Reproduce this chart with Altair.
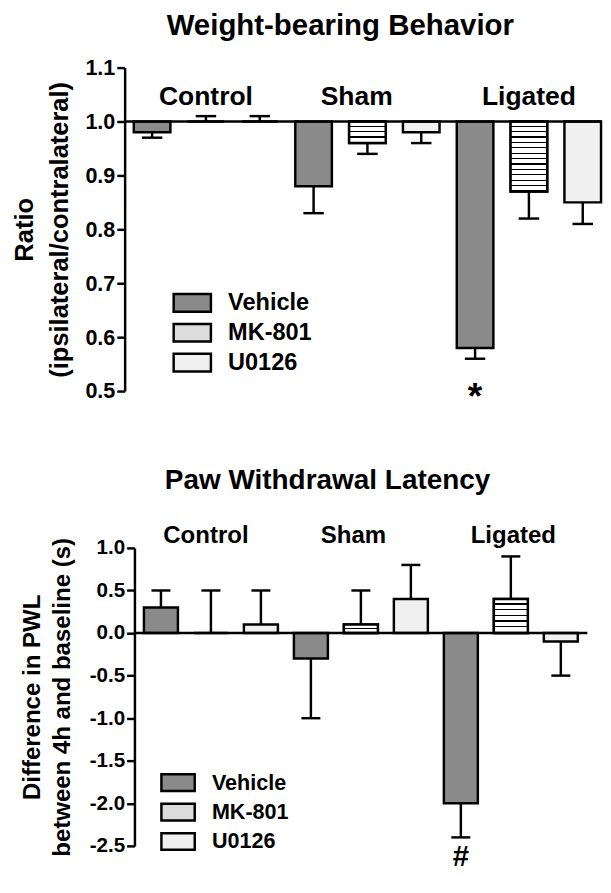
import altair as alt
import pandas as pd

# ---------------- data ----------------
groups = ["Control", "Sham", "Ligated"]
treatments = ["Vehicle", "MK-801", "U0126"]

wb_mean = [0.98, 1.00, 1.00, 0.88, 0.96, 0.98, 0.58, 0.87, 0.85]
wb_err = [0.01, 0.01, 0.01, 0.05, 0.02, 0.02, 0.02, 0.05, 0.04]

pwl_mean = [0.30, 0.00, 0.10, -0.30, 0.10, 0.40, -2.00, 0.40, -0.10]
pwl_err = [0.20, 0.50, 0.40, 0.70, 0.40, 0.40, 0.40, 0.50, 0.40]

wb_ticks = [0.5, 0.6, 0.7, 0.8, 0.9, 1.0, 1.1]
pwl_ticks = [-2.5, -2.0, -1.5, -1.0, -0.5, 0.0, 0.5, 1.0]

wb_label_pos = [1.0, 3.8, 7.0]
pwl_label_pos = [0.9, 3.85, 7.05]

wb_sig = ["*"]
wb_sig_bar = [6]
pwl_sig = ["#"]
pwl_sig_bar = [6]

FONT = "Liberation Sans"
FILLS = ["#8a8a8a", "#dcdcdc", "#f0f0f0"]
LW = 2.5


def stripes(n, line_frac):
    stops = []
    for k in range(n):
        a = k / n
        b = (k + 1) / n
        m = b - line_frac / n
        stops += [
            alt.GradientStop(color="white", offset=a),
            alt.GradientStop(color="white", offset=m),
            alt.GradientStop(color="black", offset=m),
            alt.GradientStop(color="black", offset=b),
        ]
    return alt.LinearGradient(gradient="linear", stops=stops, x1=0, x2=0, y1=0, y2=1)


def panel(cfg):
    base = cfg["base"]
    rows = []
    for k, (m, e) in enumerate(zip(cfg["mean"], cfg["err"])):
        end = m + e if m >= base else m - e
        rows.append(dict(i=k, group=groups[k // 3], treat=treatments[k % 3],
                         mean=m, base=base, end=end,
                         lo=k - 0.34, hi=k + 0.34, clo=k - 0.19, chi=k + 0.19))
    df = pd.DataFrame(rows)

    xs = alt.Scale(domain=cfg["xdom"], nice=False, zero=False)
    ys = alt.Scale(domain=cfg["ydom"], nice=False, zero=False)

    yaxis = alt.Axis(
        values=cfg["ticks"], format=".1f",
        labelExpr="replace(datum.label, '\u2212', '-')",
        title=cfg["ytitle"], titleFont=FONT, titleFontSize=cfg["ytitle_size"],
        titleFontWeight="bold", titleColor="black", titleLineHeight=cfg["ytitle_lh"],
        titlePadding=cfg["title_pad"],
        labelFont=FONT, labelFontSize=cfg["label_size"], labelFontWeight="bold",
        labelColor="black", labelPadding=2,
        domainColor="black", domainWidth=LW, tickColor="black", tickWidth=LW,
        tickSize=8, grid=False, offset=cfg["axis_offset"],
    )

    def Y(field):
        return alt.Y(field, scale=ys, axis=yaxis)

    def X(field):
        return alt.X(field, scale=xs, axis=None)

    legend = alt.Legend(
        orient="none", legendX=cfg["leg_x"], legendY=cfg["leg_y"], title=None,
        symbolType=cfg["sym_path"], symbolSize=cfg["sym_size"],
        symbolStrokeColor="black", symbolStrokeWidth=LW,
        labelFont=FONT, labelFontSize=cfg["leg_font"], labelFontWeight="bold",
        labelColor="black", labelOffset=cfg["leg_lo"], rowPadding=cfg["row_pad"],
    )

    bars = alt.Chart(df).mark_bar(stroke="black", strokeWidth=LW).encode(
        x=X("lo:Q"), x2="hi", y=Y("mean:Q"), y2="base",
        color=alt.Color("treat:N", scale=alt.Scale(domain=treatments, range=FILLS), legend=legend),
    )

    layers = [bars]
    # striped MK-801 bars
    ppu = cfg["height"] / (cfg["ydom"][1] - cfg["ydom"][0])
    for r in rows:
        if r["treat"] == "MK-801":
            h = abs(r["mean"] - base) * ppu
            n = int(round(h / 5.5))
            if n >= 2:
                lf = min(0.45, 1.3 / (h / n))
                layers.append(
                    alt.Chart(df).transform_filter(alt.datum.i == r["i"]).mark_bar(
                        fill=stripes(n, lf), stroke="black", strokeWidth=LW
                    ).encode(x=X("lo:Q"), x2="hi", y=Y("mean:Q"), y2="base")
                )

    bl = pd.DataFrame({"x0": [cfg["base_x"][0]], "x1": [cfg["base_x"][1]], "y": [base]})
    baseline = alt.Chart(bl).mark_rule(color="black", strokeWidth=LW).encode(
        x=X("x0:Q"), x2="x1", y=Y("y:Q"),
    )
    err = alt.Chart(df).mark_rule(color="black", strokeWidth=LW).encode(
        x=X("i:Q"), y=Y("mean:Q"), y2="end",
    )
    caps = alt.Chart(df).mark_rule(color="black", strokeWidth=LW).encode(
        x=X("clo:Q"), x2="chi", y=Y("end:Q"),
    )

    lab = pd.DataFrame({"g": groups, "x": cfg["label_pos"], "y": [cfg["group_y"]] * 3})
    labels = alt.Chart(lab).mark_text(
        font=FONT, fontSize=cfg["group_size"], fontWeight="bold", color="black",
        baseline="alphabetic", align="center", dy=cfg["group_dy"],
    ).encode(x=X("x:Q"), y=Y("y:Q"), text="g:N")

    sdf = pd.DataFrame({"t": cfg["sig"], "x": cfg["sig_bar"], "y": [cfg["ydom"][0]] * len(cfg["sig"])})
    sig = alt.Chart(sdf).mark_text(
        font=FONT, fontSize=cfg["sig_size"], fontWeight="bold", color="black",
        baseline="middle", align="center", dy=cfg["sig_dy"],
    ).encode(x=X("x:Q"), y=Y("y:Q"), text="t:N")

    layers += [baseline, err, caps, labels, sig]
    return alt.layer(*layers).properties(
        width=cfg["width"], height=cfg["height"],
        title=alt.TitleParams(
            text=cfg["title"], font=FONT, fontSize=cfg["title_size"], fontWeight="bold",
            color="black", anchor="middle", frame="group", dx=cfg["title_dx"],
            offset=cfg["title_offset"],
        ),
    )


top = panel(dict(
    title="Weight-bearing Behavior", title_size=30, title_dx=-23, title_offset=16,
    ytitle=["Ratio", "(ipsilateral/contralateral)"], ytitle_size=26, ytitle_lh=35, title_pad=13,
    mean=wb_mean, err=wb_err, base=1.0, ydom=[0.5, 1.1], ticks=wb_ticks,
    xdom=[-0.51, 8.34], base_x=[-0.51, 8.34], width=486, height=330,
    label_size=22, axis_offset=0,
    leg_x=57, leg_y=228, sym_path="M-2,-0.95H2V0.95H-2Z", sym_size=361, leg_font=24,
    leg_lo=24.5, row_pad=0.5,
    label_pos=wb_label_pos, group_y=1.03, group_size=27, group_dy=0,
    sig=wb_sig, sig_bar=wb_sig_bar, sig_size=38, sig_dy=7,
))

bottom = panel(dict(
    title="Paw Withdrawal Latency", title_size=28.5, title_dx=-29, title_offset=30,
    ytitle=["Difference in PWL", "between 4h and baseline (s)"], ytitle_size=24.5, ytitle_lh=31, title_pad=15,
    mean=pwl_mean, err=pwl_err, base=0.0, ydom=[-2.5, 1.0], ticks=pwl_ticks,
    xdom=[-0.726, 8.53], base_x=[-0.53, 8.53], width=472, height=304,
    label_size=21, axis_offset=-10,
    leg_x=43.5, leg_y=228.5, sym_path="M-2,-1H2V1H-2Z", sym_size=289, leg_font=22,
    leg_lo=23.5, row_pad=2,
    label_pos=pwl_label_pos, group_y=1.0, group_size=24.5, group_dy=-5,
    sig=pwl_sig, sig_bar=pwl_sig_bar, sig_size=30, sig_dy=11,
))

chart = alt.vconcat(top, bottom, spacing=49).resolve_scale(
    color="independent"
).resolve_legend(color="independent").configure_view(
    stroke="transparent"
).properties(
    padding={"left": 3, "top": -6, "right": 0, "bottom": 0}
)

chart.save("out.html", embed_options={"renderer": "svg", "actions": False})
